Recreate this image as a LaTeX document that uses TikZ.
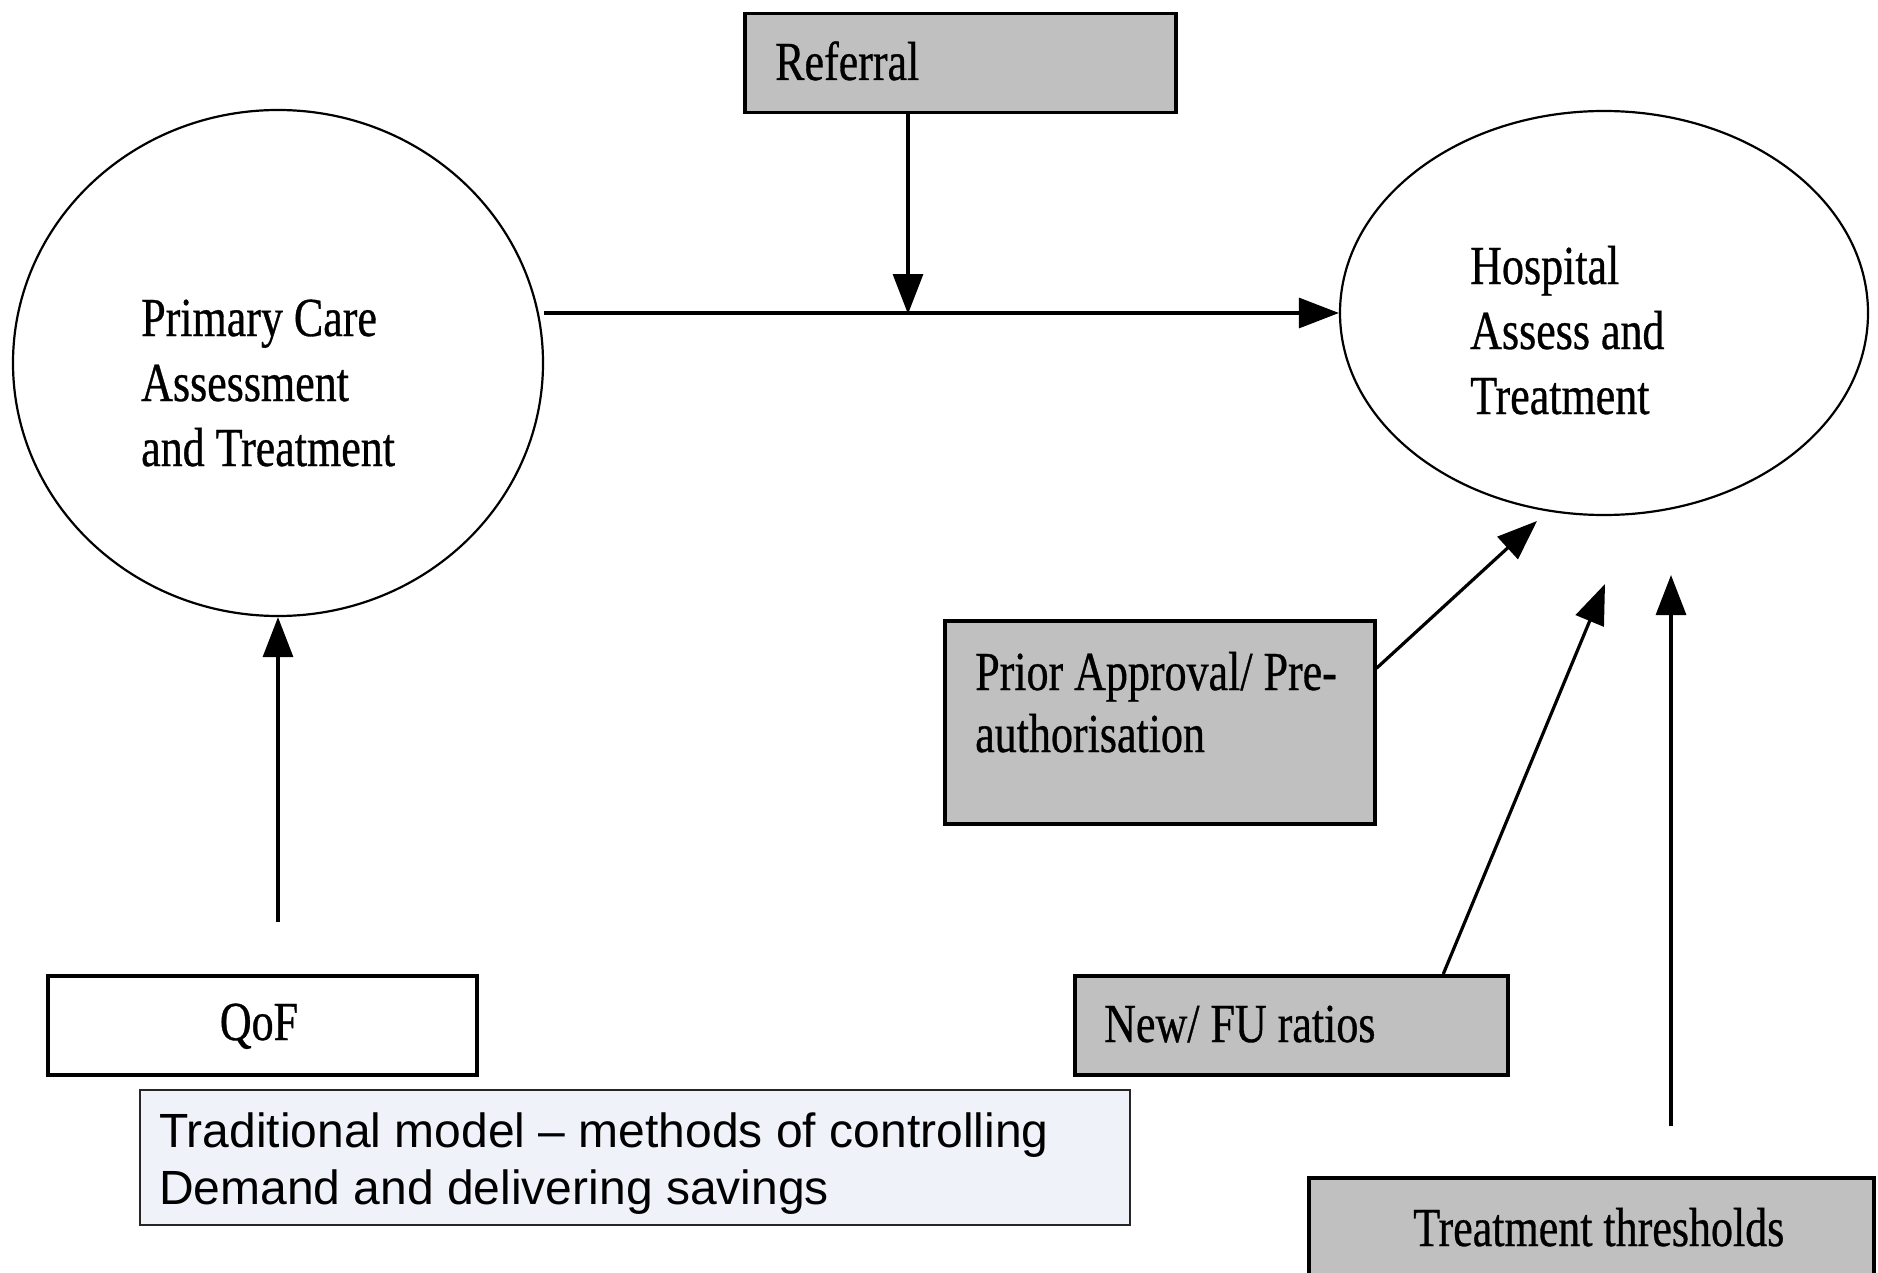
\documentclass[tikz,border=0pt]{standalone}
\usepackage{fontspec}
\newfontfamily\serifcond[FakeStretch=0.8,FakeBold=0.6]{Liberation Serif}
\newfontfamily\sansarial{Liberation Sans}
\usetikzlibrary{arrows.meta,shapes.geometric}
\definecolor{boxgray}{RGB}{192,192,192}
\definecolor{lavender}{RGB}{240,242,250}
\begin{document}
\begin{tikzpicture}[x=1pt,y=-1pt,
 graybox/.style={draw=black, line width=3.5pt, fill=boxgray, inner sep=0pt, anchor=north west},
 whitebox/.style={draw=black, line width=3.5pt, fill=white, inner sep=0pt, anchor=north west},
 notebox/.style={draw=black!85, line width=2pt, fill=lavender, inner sep=0pt, anchor=north west},
 oval/.style={draw=black, line width=2.2pt, ellipse, inner sep=0pt},
 lbl/.style={font=\serifcond\fontsize{55}{65}\selectfont, inner sep=0pt, anchor=base west},
 conn/.style={line width=3.2pt, -{Triangle[length=40pt,width=30pt]}},
]
\useasboundingbox (0,0) rectangle (1878,1273);
\fill[white] (0,0) rectangle (1878,1273);
\clip (0,0) rectangle (1878,1273);

% shapes
\node[graybox, minimum width=431pt, minimum height=99pt] (ref) at (743,12) {};
\node[oval, minimum width=530pt, minimum height=506pt] (prim) at (278,363) {};
\node[oval, minimum width=528pt, minimum height=404pt] (hosp) at (1604,313) {};
\node[graybox, minimum width=430pt, minimum height=203pt] (prior) at (943,619) {};
\node[whitebox, minimum width=429pt, minimum height=99pt] (qof) at (46,974) {};
\node[graybox, minimum width=433pt, minimum height=99pt] (newfu) at (1073,974) {};
\node[graybox, minimum width=565pt, minimum height=130pt] (thr) at (1307,1176) {};
\node[notebox, minimum width=990pt, minimum height=135pt] (note) at (139,1089) {};

% texts (base anchor = baseline of the last line)
\node[lbl] (reftxt) at (775,80) {Referral};
\node[lbl, align=left] (primtxt) at (141,466) {Primary Care\\Assessment\\and Treatment};
\node[lbl, align=left] (hosptxt) at (1470,414) {Hospital\\Assess and\\Treatment};
\node[lbl, align=left, font=\serifcond\fontsize{55}{62}\selectfont] (priortxt) at (975,752) {Prior Approval/ Pre-\\authorisation};
\node[lbl] (newtxt) at (1104,1042) {New/ FU ratios};
\node[lbl, anchor=base] (qoftxt) at (259,1040) {QoF};
\node[lbl] (thrtxt) at (1413,1246) {Treatment thresholds};
\node[font=\sansarial\fontsize{48}{57}\selectfont, inner sep=0pt, anchor=base west, align=left] (notetxt) at (159,1204) {Traditional model – methods of controlling\\Demand and delivering savings};

% connectors
\coordinate (refend) at (908,314);
\coordinate (qofstart) at (278,922);
\coordinate (priortip) at (1537,521);
\coordinate (newtip) at (1605,584);
\coordinate (thrstart) at (1671,1126);
\coordinate (thrtip) at (1671,575);
\draw[conn] (prim.east |- hosp.west) -- (hosp.west);
\draw[conn] (ref.south -| refend) -- (refend);
\draw[conn] (qofstart) -- (prim.south);
\draw[conn] ([yshift=54pt]prior.east) -- (priortip);
\draw[conn] ([xshift=152pt]newfu.north) -- (newtip);
\draw[conn] (thrstart) -- (thrtip);
\end{tikzpicture}
\end{document}
